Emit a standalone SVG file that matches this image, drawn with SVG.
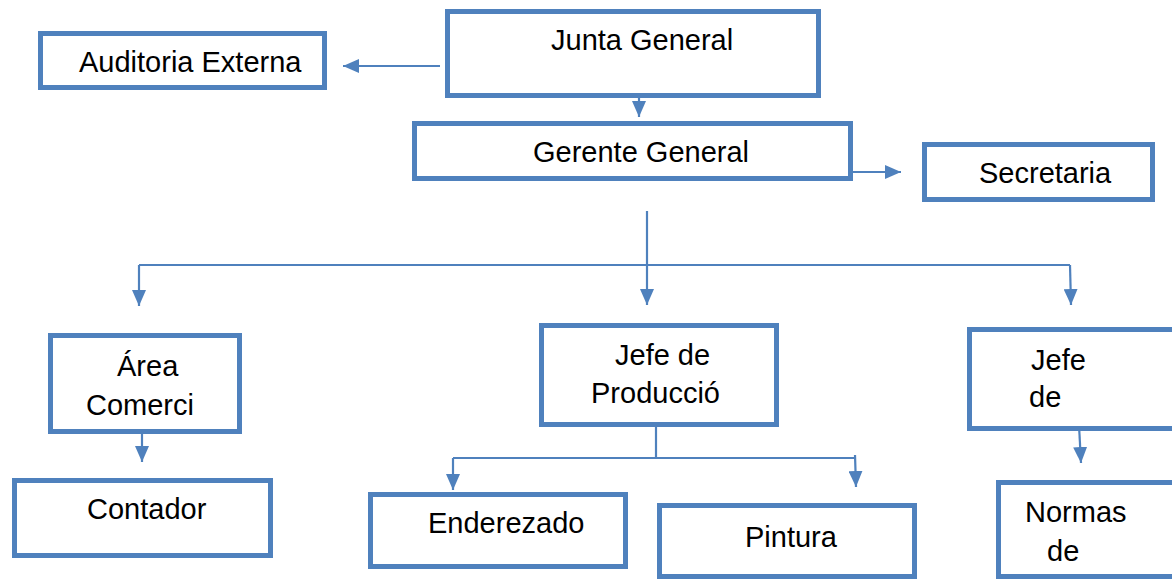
<svg xmlns="http://www.w3.org/2000/svg" width="1172" height="579" viewBox="0 0 1172 579">
<style>
.box{fill:#fff;stroke:#4F81BD;stroke-width:5}
.lbl{font-family:"Liberation Sans",Arial,sans-serif;font-size:29px;fill:#000}
.con{fill:none;stroke:#4F81BD;stroke-width:2.2}
</style>
<defs>
<marker id="ah" viewBox="0 0 16 14" refX="16" refY="7" markerWidth="16" markerHeight="14" markerUnits="userSpaceOnUse" orient="auto">
<path d="M0,0 L16,7 L0,14 z" fill="#4F81BD"/>
</marker>
</defs>
<rect width="1172" height="579" fill="#fff"/>
<g id="connectors">
<path class="con" d="M440,66 L343,66" marker-end="url(#ah)"/>
<path class="con" d="M639,98 L639,117" marker-end="url(#ah)"/>
<path class="con" d="M853,172 L901,172" marker-end="url(#ah)"/>
<path class="con" d="M647,211 L647,305" marker-end="url(#ah)"/>
<path class="con" d="M139,265 L1070,265"/>
<path class="con" d="M139,265 L139,306" marker-end="url(#ah)"/>
<path class="con" d="M1070,265 L1071,305" marker-end="url(#ah)"/>
<path class="con" d="M142,434 L142,462" marker-end="url(#ah)"/>
<path class="con" d="M656,427 L656,458"/>
<path class="con" d="M453,458 L855,458"/>
<path class="con" d="M453,458 L453,490" marker-end="url(#ah)"/>
<path class="con" d="M855,455 L856,487" marker-end="url(#ah)"/>
<path class="con" d="M1079,425 L1081,463" marker-end="url(#ah)"/>
</g>
<g id="junta">
<rect class="box" x="447.5" y="11.5" width="371" height="84"/>
<text class="lbl" x="551" y="50">Junta General</text>
</g>
<g id="auditoria">
<rect class="box" x="40.5" y="33.5" width="284" height="54"/>
<text class="lbl" x="79" y="72">Auditoria Externa</text>
</g>
<g id="gerente">
<rect class="box" x="414.5" y="123.5" width="436" height="55"/>
<text class="lbl" x="533" y="162">Gerente General</text>
</g>
<g id="secretaria">
<rect class="box" x="924.5" y="144.5" width="228" height="55"/>
<text class="lbl" x="979" y="183">Secretaria</text>
</g>
<g id="area">
<rect class="box" x="50.5" y="335.5" width="189" height="96"/>
<text class="lbl" x="117" y="376">Área</text>
<text class="lbl" x="86" y="415">Comerci</text>
</g>
<g id="produccion">
<rect class="box" x="541.5" y="325.5" width="235" height="99"/>
<text class="lbl" x="615" y="365">Jefe de</text>
<text class="lbl" x="591" y="403">Producció</text>
</g>
<g id="jefe-derecha">
<rect class="box" x="969.5" y="329.5" width="230" height="99"/>
<text class="lbl" x="1031" y="370">Jefe</text>
<text class="lbl" x="1029" y="407">de</text>
</g>
<g id="contador">
<rect class="box" x="14.5" y="480.5" width="256" height="75"/>
<text class="lbl" x="87" y="519">Contador</text>
</g>
<g id="enderezado">
<rect class="box" x="370.5" y="494.5" width="255" height="72"/>
<text class="lbl" x="428" y="533">Enderezado</text>
</g>
<g id="pintura">
<rect class="box" x="659.5" y="505.5" width="255" height="71"/>
<text class="lbl" x="745" y="547">Pintura</text>
</g>
<g id="normas">
<rect class="box" x="998.5" y="482.5" width="200" height="94"/>
<text class="lbl" x="1025" y="522">Normas</text>
<text class="lbl" x="1047" y="561">de</text>
</g>
</svg>
